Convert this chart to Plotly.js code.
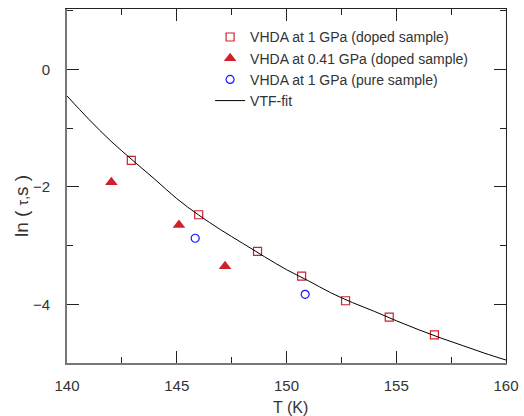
<!DOCTYPE html>
<html>
<head>
<meta charset="utf-8">
<script src="https://cdn.plot.ly/plotly-3.0.1.min.js"></script>
<style>html,body{margin:0;padding:0;background:#fff}#chart{width:524px;height:416px}</style>
</head>
<body>
<div id="chart"></div>
<script>
// VHDA at 1 GPa (doped sample)
const dopedT = [142.93, 146.0, 148.68, 150.69, 152.69, 154.68, 156.74];
const dopedLnTau = [-1.55, -2.475, -3.10, -3.52, -3.94, -4.22, -4.52];
// VHDA at 0.41 GPa (doped sample)
const lowPT = [142.02, 145.1, 147.2];
const lowPLnTau = [-1.92, -2.65, -3.35];
// VHDA at 1 GPa (pure sample)
const pureT = [145.84, 150.85];
const pureLnTau = [-2.875, -3.83];
// VTF-fit curve
const fitT = [140, 141, 142, 143, 144, 145, 146, 147, 148, 149, 150, 151, 152, 153, 154, 155, 156, 157, 158, 159, 160];
const fitLnTau = [-0.45, -0.85, -1.22, -1.55, -1.87, -2.20, -2.48, -2.73, -2.96, -3.19, -3.41, -3.60, -3.80, -3.97, -4.12, -4.28, -4.43, -4.57, -4.70, -4.83, -4.95];

const xTickVals = [140, 145, 150, 155, 160];
const yTickVals = [0, -2, -4];

const red = '#d0212b';
const font = 'Liberation Sans, Arial, Helvetica, sans-serif';

const traces = [
  {x: dopedT, y: dopedLnTau, mode: 'markers', name: 'VHDA at 1 GPa (doped sample)',
   marker: {symbol: 'square-open', size: 8, color: red, line: {width: 1.2, color: red}}},
  {x: lowPT, y: lowPLnTau, mode: 'markers', name: 'VHDA at 0.41 GPa (doped sample)',
   marker: {symbol: 'triangle-up', size: 11, color: red}},
  {x: pureT, y: pureLnTau, mode: 'markers', name: 'VHDA at 1 GPa (pure sample)',
   marker: {symbol: 'circle-open', size: 8, color: '#1515ff', line: {width: 1.2, color: '#1515ff'}}},
  {x: fitT, y: fitLnTau, mode: 'lines', name: 'VTF-fit',
   line: {color: '#000', width: 1, shape: 'spline'}},
  // invisible trace for top/right axes
  {x: [140], y: [0], xaxis: 'x2', yaxis: 'y2', mode: 'markers', marker: {opacity: 0}, showlegend: false, hoverinfo: 'skip'}
];

const layout = {
  width: 524, height: 416,
  margin: {l: 67, r: 18, t: 9, b: 53, pad: 0},
  paper_bgcolor: '#fff', plot_bgcolor: '#fff',
  font: {family: font, size: 15, color: '#333'},
  showlegend: true,
  legend: {x: 0.326, y: 0.965, xanchor: 'left', yanchor: 'top', bgcolor: 'rgba(0,0,0,0)',
           font: {family: font, size: 14, color: '#333'}, tracegroupgap: 0},
  xaxis: {range: [140, 160], tickvals: xTickVals, ticks: 'inside', ticklen: 12, tickwidth: 1, tickcolor: '#222',
          showline: true, linecolor: '#777', linewidth: 2, showgrid: false, zeroline: false,
          ticklabelstandoff: 8,
          minor: {dtick: 2.5, tick0: 140, ticks: 'inside', ticklen: 6, tickwidth: 1, tickcolor: '#222', showgrid: false}},
  yaxis: {range: [-5, 1.03], tickvals: yTickVals, ticks: 'inside', ticklen: 12, tickwidth: 1, tickcolor: '#222',
          showline: true, linecolor: '#777', linewidth: 2, showgrid: false, zeroline: false,
          ticklabelstandoff: 12,
          minor: {dtick: 1, tick0: 0, ticks: 'inside', ticklen: 6, tickwidth: 1, tickcolor: '#222', showgrid: false}},
  xaxis2: {range: [140, 160], overlaying: 'x', side: 'top', tickvals: xTickVals, ticks: 'inside', ticklen: 12,
           tickwidth: 1, tickcolor: '#222', showticklabels: false, showline: true, linecolor: '#222', linewidth: 1,
           showgrid: false, zeroline: false,
           minor: {dtick: 2.5, tick0: 140, ticks: 'inside', ticklen: 6, tickwidth: 1, tickcolor: '#222', showgrid: false}},
  yaxis2: {range: [-5, 1.03], overlaying: 'y', side: 'right', tickvals: yTickVals, ticks: 'inside', ticklen: 12,
           tickwidth: 1, tickcolor: '#222', showticklabels: false, showline: true, linecolor: '#222', linewidth: 1,
           showgrid: false, zeroline: false,
           minor: {dtick: 1, tick0: 0, ticks: 'inside', ticklen: 6, tickwidth: 1, tickcolor: '#222', showgrid: false}},
  annotations: [
    {text: 'T (K)', xref: 'paper', yref: 'paper', x: 0.51, y: -0.125, xanchor: 'center', yanchor: 'middle',
     showarrow: false, font: {family: font, size: 16, color: '#333'}},
    {text: 'ln ( <span style="font-size:14px">τ,</span>s )', xref: 'paper', yref: 'paper', x: -0.105, y: 0.443,
     xanchor: 'center', yanchor: 'middle', textangle: -90, showarrow: false,
     font: {family: font, size: 19, color: '#333'}}
  ]
};

Plotly.newPlot('chart', traces, layout, {displayModeBar: false, staticPlot: true});
</script>
</body>
</html>
